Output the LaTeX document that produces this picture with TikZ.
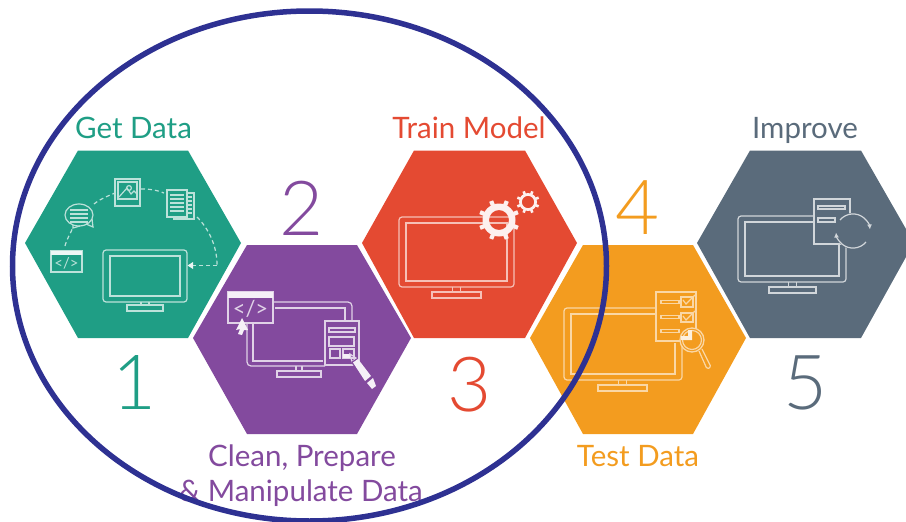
\documentclass[tikz,border=0pt]{standalone}
\usepackage{fontspec}
\setmainfont{Lato}
\newfontfamily\numfont{Lato Light}
\usetikzlibrary{arrows.meta}
\definecolor{cgreen}{HTML}{1F9E85}
\definecolor{cpurple}{HTML}{834A9E}
\definecolor{cred}{HTML}{E44A32}
\definecolor{corange}{HTML}{F39C1F}
\definecolor{cgray}{HTML}{5A6B7B}
\definecolor{cring}{HTML}{2E3192}
\newcommand{\hexagon}[7]{% colour, top y, mid y, bottom y, left x, top-left x, top-right x
  \fill[#1] (#5,#3) -- (#6,#2) -- (#7,#2) -- ({#7+(#6-#5)},#3) -- (#7,#4) -- (#6,#4) -- cycle;}
% outer x0 y0 x1 y1, base x0 y x1
\newcommand{\monitor}[7]{%
  \draw[rounded corners=3pt] (#1,#2) rectangle (#3,#4);
  \draw (#1+7,#2+6) rectangle (#3-7,#4-6);
  \draw (#5,#6) rectangle (#7,#6+6);
  \draw ({(#5+#7)/2-4},#6) -- ({(#5+#7)/2-4},#4);
  \draw ({(#5+#7)/2+4},#6) -- ({(#5+#7)/2+4},#4);
}
\tikzset{
  x=1pt,y=-1pt,
  lbl/.style={font=\fontsize{29.5}{32}\selectfont,inner sep=0pt,anchor=base,text=#1},
  num/.style={font=\numfont\fontsize{76}{80}\selectfont,inner sep=0pt,text=#1},
  ico/.style={line width=1.2pt,draw=#1},
  greenico/.style={ico=cgreen!30!white},
  purpleico/.style={ico=cpurple!25!white},
  redico/.style={ico=cred!35!white},
  orangeico/.style={ico=corange!40!white},
  grayico/.style={ico=cgray!28!white},
  dashline/.style={line width=1.2pt,dash pattern=on 4pt off 3pt},
}
\begin{document}
\begin{tikzpicture}
\useasboundingbox (0,0) rectangle (906,522);
% hexagons
\hexagon{cgreen}{150.5}{243}{338}{25}{78}{188}
\hexagon{cpurple}{245}{338}{434}{193}{247}{357}
\hexagon{cred}{150.5}{243}{338}{362}{414}{525}
\hexagon{corange}{245}{338}{434}{530}{583}{693}
\fill[cgray] (697,243) -- (750,150.5) -- (861,150.5) -- (906,229) -- (906,257) -- (861,338) -- (750,338) -- cycle;
% labels
\node[lbl=cgreen] (t1) at (133.5,138.5) {Get Data};
\node[lbl=cred] (t3) at (469,138.5) {Train Model};
\node[lbl=cgray] (t5) at (805,138.5) {Improve};
\node[lbl=cpurple] (t2a) at (302,466.5) {Clean, Prepare};
\node[lbl=cpurple] (t2b) at (301,501.5) {\& Manipulate Data};
\node[lbl=corange] (t4) at (638,466.5) {Test Data};
\node[num=cgreen] (n1) at (135,382) {1};
\node[num=cpurple] (n2) at (302,208) {2};
\node[num=cred] (n3) at (470,385) {3};
\node[num=corange] (n4) at (638,208) {4};
\node[num=cgray] (n5) at (806,383) {5};
% green icons
\begin{scope}[greenico]
  \monitor{103}{250}{187}{302}{127}{305}{163}
  \draw (79,215) ellipse (14 and 11);
  \draw (73,225) -- (73,228) -- (80,226) (86,224) -- (93,227) -- (92,219);
  \foreach \yy in {210,214,218,222} \draw (70,\yy) -- (88,\yy);
  \draw (115,179) rectangle (140,206);
  \draw (118,182) rectangle (137,199);
  \draw (119,197) -- (127,188) -- (131,194) -- (134,191) -- (137,194);
  \draw (129,188) circle (2.4);
  \draw (187,193) -- (194,193) -- (194,219) -- (174,219) -- (174,217);
  \draw (167,190) rectangle (187,217);
  \foreach \yy in {195,199,203,207,211} \draw (170,\yy) -- (184,\yy);
  \foreach \yy in {197,201,205,209,213} \draw (187,\yy) -- (192,\yy);
  \draw (51,251) rectangle (82,272);
  \fill[white!92!cgreen] (51,251) rectangle (82,255);
  \node[text=cgreen!30!white,font=\fontsize{15}{16}\selectfont,inner sep=0pt] (c1) at (66.5,263) {</>};
  \draw[dashline] (65,246) .. controls (67,238) and (71,233) .. (73,227);
  \draw[dashline] (94,204) .. controls (100,199) and (108,196) .. (115,193);
  \draw[dashline] (141,189) .. controls (150,189) and (157,190) .. (164,193);
  \draw[dashline] (197,217) .. controls (208,228) and (217,245) .. (217,265);
  \draw[dashline] (217,265.5) -- (193,265.5);
  \fill[white!90!cgreen] (187.5,265.5) -- (193,262) -- (193,269) -- cycle;
\end{scope}
% purple icons
\begin{scope}[purpleico]
  \draw (228,292) rectangle (273,323);
  \fill[white!92!cpurple] (228,292) rectangle (273,297.5);
  \node[text=cpurple!25!white,font=\fontsize{22}{24}\selectfont,inner sep=0pt] (c2) at (250.5,309) {</>};
  \draw[rounded corners=4pt] (274,302) -- (352,302) -- (352,320);
  \draw (275,308) -- (345,308) -- (345,320);
  \draw[rounded corners=4pt] (247,323) -- (247,366) -- (325,366);
  \draw (253,323) -- (253,361) -- (323,361);
  \draw (296,366) -- (296,371) (302,366) -- (302,371);
  \draw (277,371) rectangle (321,377);
  \fill[white!92!cpurple] (242,318) -- (236,330) -- (240,329) -- (238,334) -- (242,335) -- (244,330) -- (248,330) -- cycle;
  \draw (325,321) rectangle (359,365);
  \draw (329,328) rectangle (355,332);
  \draw (329,337) rectangle (354,346);
  \draw (330,349) rectangle (340,358);
  \draw (343,349) rectangle (354,358);
  \fill[white!92!cpurple] (343,354) rectangle (350,358);
  \draw (350,354) -- (356,358) -- (352,362) -- cycle;
  \fill[cpurple] (351,362) -- (356,359) -- (371,378) -- (365,383) -- cycle;
  \fill[white!92!cpurple] (353,362.5) -- (358,359) -- (371,376) -- (365,381) -- cycle;
  \fill[white!92!cpurple] (367,383) -- (373,378) -- (376,386) -- (372,389) -- cycle;
\end{scope}
% red icons
\begin{scope}[redico]
  \monitor{399}{217}{514}{287}{432}{292}{481}
  \foreach \cx/\cy/\ro/\ri/\tw/\tl in {499/220/16.5/10/4.2/20.5,528/202/9/6.2/2.6/11.5}{
    \fill[white!92!cred,even odd rule] (\cx,\cy) circle (\ro) (\cx,\cy) circle (\ri);
    \foreach \a in {22.5,67.5,...,337.5}
      \draw[white!92!cred,line width=\tw pt] ({\cx+(\ro-0.5)*cos(\a)},{\cy+(\ro-0.5)*sin(\a)}) -- ({\cx+\tl*cos(\a)},{\cy+\tl*sin(\a)});
  }
\end{scope}
% orange icons
\begin{scope}[orangeico]
  \monitor{564}{308}{682}{380}{598}{385}{647}
  \fill[corange] (656,292) rectangle (696,341);
  \fill[corange] (672,300) rectangle (690,342.5);
  \draw (656,292) rectangle (696,341);
  \foreach \yy in {302,317,331} \draw (661,\yy-1.5) rectangle (679,\yy+1.5);
  \draw (681,297) rectangle (693,307);
  \draw (681,313) rectangle (693,322);
  \draw (683,300) -- (686,304) -- (695,295);
  \draw (683,316) -- (686,320) -- (695,311);
  \fill[corange] (692,340) circle (12);
  \draw[line width=1.3pt] (692,340) circle (12);
  \draw (692,340) circle (9.5);
  \fill[white!85!corange] (681,336) rectangle (692,340) (688,330) rectangle (692,340);
  \draw[rounded corners=1.5pt] (699,351) -- (707,369) -- (711,367) -- (702,349);
\end{scope}
% gray icons
\begin{scope}[grayico]
  \monitor{738}{216}{846}{282}{769}{287}{816}
  \fill[cgray] (814,199) rectangle (850,244);
  \draw (814,199) rectangle (850,244);
  \draw (818,206) rectangle (845,209);
  \draw (818,218) rectangle (835,222);
  \fill[cgray] (853,231) circle (18);
  \draw[-{Latex[length=5pt,width=5pt]}] (840,220) arc[start angle=220,end angle=355,radius=17];
  \draw[-{Latex[length=5pt,width=5pt]}] (866,242) arc[start angle=40,end angle=175,radius=17];
\end{scope}
% enclosing ring
\draw[cring,line width=5.5pt] (309.5,266) ellipse (297 and 255);
\end{tikzpicture}
\end{document}
